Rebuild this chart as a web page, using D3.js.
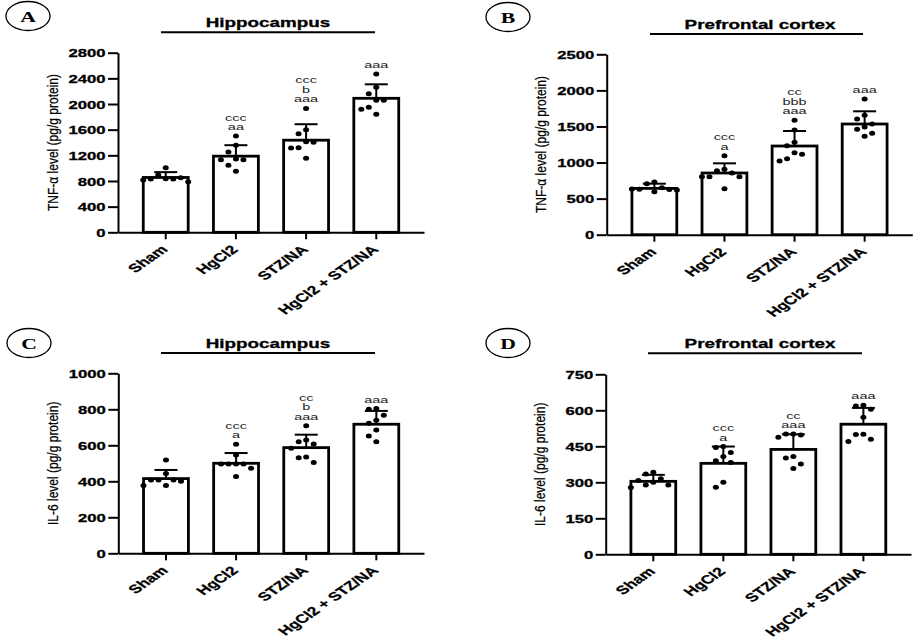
<!doctype html>
<html lang="en">
<head>
  <script src="https://cdnjs.cloudflare.com/ajax/libs/d3/7.8.5/d3.min.js"></script>
  <style>
    body { margin: 0; padding: 0; background: #fff; }
    svg { display: block; }
  </style>
</head>
<body>
<svg id="canvas" width="920" height="642"></svg>
<script>
var groups = ['Sham', 'HgCl2', 'STZ/NA', 'HgCl2 + STZ/NA'];

// A: TNF-alpha, hippocampus
var ticksA = [0, 400, 800, 1200, 1600, 2000, 2400, 2800];
var meansA = [855, 1187, 1436, 2089];
var sdsA = [83, 171, 249, 218];
var pointsA = [
  [1008, 893, 836, 831, 831, 850, 816, 790],
  [1501, 1356, 1252, 1143, 1133, 1133, 1044, 951],
  [1932, 1600, 1538, 1413, 1403, 1320, 1314, 1153],
  [2468, 2260, 2160, 2060, 2060, 1950, 1920, 1840]
];
var sigA = [[], ['ccc', 'aa'], ['ccc', 'b', 'aaa'], ['aaa']];

// B: TNF-alpha, prefrontal cortex
var ticksB = [0, 500, 1000, 1500, 2000, 2500];
var meansB = [642, 855, 1229, 1534];
var sdsB = [65, 134, 208, 176];
var pointsB = [
  [730, 705, 650, 630, 625, 635, 620, 595],
  [1095, 906, 887, 855, 804, 804, 804, 638],
  [1585, 1451, 1280, 1234, 1137, 1114, 1054, 1021],
  [1881, 1654, 1603, 1534, 1493, 1460, 1405, 1363]
];
var sigB = [[], ['ccc', 'a'], ['cc', 'bbb', 'aaa'], ['aaa']];

// C: IL-6, hippocampus
var ticksC = [0, 200, 400, 600, 800, 1000];
var meansC = [415, 500, 587, 717];
var sdsC = [48, 57, 72, 74];
var pointsC = [
  [519, 444, 407, 407, 407, 400, 376, 376],
  [606, 546, 496, 496, 496, 496, 472, 426],
  [709, 630, 620, 607, 583, 535, 531, 504],
  [804, 800, 767, 739, 722, 685, 652, 620]
];
var sigC = [[], ['ccc', 'a'], ['cc', 'b', 'aaa'], ['aaa']];

// D: IL-6, prefrontal cortex
var ticksD = [0, 150, 300, 450, 600, 750];
var meansD = [304, 379, 437, 542];
var sdsD = [27, 70, 63, 68];
var pointsD = [
  [342, 335, 315, 307, 300, 289, 289, 278],
  [449, 445, 424, 407, 390, 382, 300, 279],
  [501, 501, 497, 488, 407, 401, 376, 358],
  [621, 618, 604, 571, 500, 499, 479, 470]
];
var sigD = [[], ['ccc', 'a'], ['cc', 'aaa'], ['aaa']];

var tnfLabel = 'TNF-\u03b1 level (pg/g protein)';
var il6Label = 'IL-6 level (pg/g protein)';

// the figure is stretched sideways, so text is too
var SX = 1.45;
var sans = "'Liberation Sans', Arial, sans-serif";

var panels = [
  { letter: 'A', title: 'Hippocampus', yLabel: tnfLabel, ticks: ticksA, means: meansA, sds: sdsA, points: pointsA, sig: sigA,
    left: 118, right: 424, top: 52.7, bottom: 232.3, badge: [28, 16], titleX: 268, titleY: 26.7, line: [161, 375, 32.3], labelX: 53 },
  { letter: 'B', title: 'Prefrontal cortex', yLabel: tnfLabel, ticks: ticksB, means: meansB, sds: sdsB, points: pointsB, sig: sigB,
    left: 606.7, right: 912.3, top: 54.3, bottom: 234.7, badge: [508, 17], titleX: 760, titleY: 29, line: [650, 863, 34], labelX: 541 },
  { letter: 'C', title: 'Hippocampus', yLabel: il6Label, ticks: ticksC, means: meansC, sds: sdsC, points: pointsC, sig: sigC,
    left: 118.3, right: 424, top: 373.3, bottom: 553.3, badge: [29, 343], titleX: 268, titleY: 347.7, line: [161, 375, 353], labelX: 53 },
  { letter: 'D', title: 'Prefrontal cortex', yLabel: il6Label, ticks: ticksD, means: meansD, sds: sdsD, points: pointsD, sig: sigD,
    left: 605.7, right: 911, top: 374.3, bottom: 554.3, badge: [508, 343], titleX: 760, titleY: 348.3, line: [648, 862, 353.3], labelX: 540 }
];

var svg = d3.select('#canvas');

function stretched(sel, x, y, extra, sx) {
  return sel.attr('transform', 'translate(' + x + ',' + y + ') scale(' + (sx || SX) + ',1)' + (extra || ''));
}

// column scatter: a point moves to the next free column when it would overlap
function swarm(values, cx, y) {
  var placed = [];
  var step = 7.5;
  return values.map(function(v) {
    var py = y(v);
    var dx = 0;
    for (var k = 0; k < 12; k++) {
      var cand = k === 0 ? [0] : [-k * step, k * step];
      var ok = null;
      for (var c = 0; c < cand.length; c++) {
        var hit = placed.some(function(p) {
          return Math.abs(p.dx - cand[c]) < step && Math.abs(p.py - py) < 9;
        });
        if (!hit) { ok = cand[c]; break; }
      }
      if (ok !== null) { dx = ok; break; }
    }
    placed.push({ dx: dx, py: py });
    return { x: cx + dx, y: py };
  });
}

panels.forEach(function(p) {
  var g = svg.append('g');

  // panel badge
  g.append('ellipse')
    .attr('cx', p.badge[0]).attr('cy', p.badge[1])
    .attr('rx', 22).attr('ry', 14.5)
    .attr('fill', 'none').attr('stroke', '#000').attr('stroke-width', 1.3);
  stretched(g.append('text'), p.badge[0], p.badge[1] + 5.5)
    .attr('text-anchor', 'middle')
    .style('font-family', "'Liberation Serif', 'Times New Roman', serif")
    .style('font-weight', 'bold')
    .style('font-size', '15px')
    .text(p.letter);

  // region title
  stretched(g.append('text'), p.titleX, p.titleY)
    .attr('text-anchor', 'middle')
    .style('font-family', sans)
    .style('font-weight', 'bold')
    .style('font-size', '13px')
    .style('stroke', '#000')
    .style('stroke-width', 0.3)
    .text(p.title);
  g.append('line')
    .attr('x1', p.line[0]).attr('x2', p.line[1])
    .attr('y1', p.line[2]).attr('y2', p.line[2])
    .attr('stroke', '#000').attr('stroke-width', 2);

  var x = d3.scaleBand().domain(groups).range([p.left, p.right]).padding(0.36);
  var y = d3.scaleLinear().domain([0, p.ticks[p.ticks.length - 1]]).range([p.bottom, p.top]);

  // bars
  g.selectAll('.bar').data(p.means).enter().append('rect')
    .attr('x', function(d, i) { return x(groups[i]); })
    .attr('y', function(d) { return y(d); })
    .attr('width', x.bandwidth())
    .attr('height', function(d) { return p.bottom - y(d); })
    .attr('fill', '#fff')
    .attr('stroke', '#000')
    .attr('stroke-width', 2.8);

  // axes
  var yAxis = g.append('g')
    .attr('transform', 'translate(' + p.left + ',0)')
    .call(d3.axisLeft(y).tickValues(p.ticks).tickFormat(d3.format('d')).tickSize(10).tickSizeOuter(0));
  yAxis.select('.domain').attr('stroke-width', 2);
  yAxis.selectAll('.tick line').attr('stroke-width', 2);
  yAxis.selectAll('.tick text')
    .attr('x', -12.5 / SX)
    .attr('dy', '0.36em')
    .attr('transform', 'scale(' + SX + ',1)')
    .style('font-family', sans)
    .style('font-weight', 'bold')
    .style('font-size', '11.5px')
    .style('fill', '#000')
    .style('stroke', '#000')
    .style('stroke-width', 0.3);

  var xAxis = g.append('g')
    .attr('transform', 'translate(0,' + p.bottom + ')')
    .call(d3.axisBottom(x).tickSize(7).tickSizeOuter(0).tickFormat(''));
  xAxis.select('.domain').attr('stroke-width', 2);
  xAxis.selectAll('.tick line').attr('stroke-width', 2);
  xAxis.selectAll('.tick text').remove();

  groups.forEach(function(name) {
    stretched(g.append('text'), x(name) + x.bandwidth() / 2 + 3, p.bottom + 18, ' rotate(-45)')
      .attr('text-anchor', 'end')
      .style('font-family', sans)
      .style('font-weight', 'bold')
      .style('font-size', '12px')
      .style('stroke', '#000')
      .style('stroke-width', 0.25)
      .text(name);
  });

  // y label
  g.append('text')
    .attr('transform', 'translate(' + p.labelX + ',' + (p.top + p.bottom) / 2 + ') scale(1.2,1) rotate(-90)')
    .attr('text-anchor', 'middle')
    .attr('dy', '0.35em')
    .style('font-family', sans)
    .style('font-size', '12px')
    .style('stroke', '#000')
    .style('stroke-width', 0.2)
    .text(p.yLabel);

  // error bars (upper SD only)
  p.means.forEach(function(m, i) {
    var cx = x(groups[i]) + x.bandwidth() / 2;
    var yt = y(m + p.sds[i]);
    g.append('line')
      .attr('x1', cx).attr('x2', cx).attr('y1', y(m)).attr('y2', yt)
      .attr('stroke', '#000').attr('stroke-width', 2);
    g.append('line')
      .attr('x1', cx - 11.5).attr('x2', cx + 11.5).attr('y1', yt).attr('y2', yt)
      .attr('stroke', '#000').attr('stroke-width', 2);
  });

  // individual animals
  p.points.forEach(function(vals, i) {
    var cx = x(groups[i]) + x.bandwidth() / 2;
    g.selectAll(null).data(swarm(vals, cx, y)).enter().append('ellipse')
      .attr('cx', function(d) { return d.x; })
      .attr('cy', function(d) { return d.y; })
      .attr('rx', 3)
      .attr('ry', 2.5)
      .attr('fill', '#000');
  });

  // significance letters, stacked above the highest mark
  p.sig.forEach(function(lines, i) {
    if (!lines.length) return;
    var cx = x(groups[i]) + x.bandwidth() / 2;
    var top = Math.min(y(d3.max(p.points[i])), y(p.means[i] + p.sds[i]));
    var lineGap = 9.5;
    var first = top - 6 - (lines.length - 1) * lineGap;
    var t = stretched(g.append('text'), cx, first, '', 1.7)
      .attr('text-anchor', 'middle')
      .style('font-family', sans)
      .style('font-size', '8.5px')
      .style('fill', '#222');
    t.selectAll('tspan').data(lines).enter().append('tspan')
      .attr('x', 0)
      .attr('dy', function(d, j) { return j === 0 ? 0 : lineGap; })
      .text(function(d) { return d; });
  });
});
</script>
</body>
</html>
